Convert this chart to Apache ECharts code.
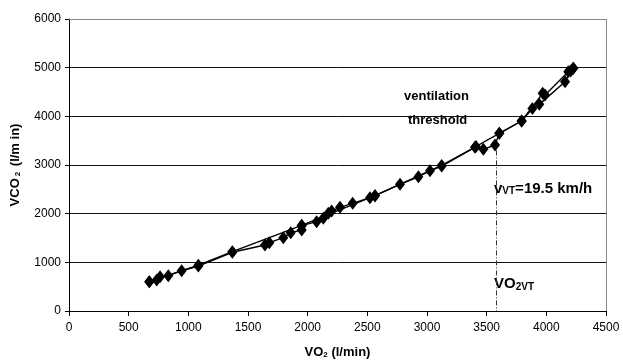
<!DOCTYPE html>
<html>
<head>
<meta charset="utf-8">
<script src="https://cdn.jsdelivr.net/npm/echarts@6/dist/echarts.min.js"></script>
<style>
  html, body { margin: 0; padding: 0; background: #fff; }
  #mainChart { width: 623px; height: 360px; }
</style>
</head>
<body>
<div id="mainChart"></div>
<script>
// VO2 / VCO2 measured points (l/min), in test order
var vo2 = [673, 735, 763, 832, 944, 1084, 1369, 1642, 1679, 1796, 1858, 1950, 1950, 2075, 2131, 2173, 2201, 2271, 2377, 2522, 2564, 2774, 2928, 3025, 3123, 3402, 3472, 3570, 3606, 3793, 3883, 3941, 4157, 4204, 4226];
var vco2 = [602, 637, 705, 726, 828, 925, 1206, 1356, 1404, 1507, 1610, 1664, 1753, 1836, 1904, 2007, 2055, 2130, 2212, 2328, 2370, 2603, 2759, 2880, 2979, 3363, 3322, 3411, 3651, 3904, 4159, 4246, 4712, 4931, 4986];

// second trace (smoothed run)
var vo2Trend = [673, 1084, 1369, 1950, 2564, 3123, 3410, 3606, 3793, 3969, 3989, 4184, 4226];
var vco2Trend = [602, 940, 1220, 1760, 2370, 2990, 3380, 3651, 3904, 4473, 4438, 4917, 4986];

var vo2VT = 3578;
var xTicks = [0, 500, 1000, 1500, 2000, 2500, 3000, 3500, 4000, 4500];
var yTicks = [0, 1000, 2000, 3000, 4000, 5000, 6000];

function pairs(xs, ys) {
    var out = [];
    for (var i = 0; i < xs.length; i++) {
        out.push([xs[i], ys[i]]);
    }
    return out;
}

var myChart = echarts.init(document.getElementById('mainChart'));

var font = 'Liberation Sans, Arial, sans-serif';

var option = {
    animation: false,
    grid: { left: 69, right: 17, top: 19, bottom: 49, outerBoundsMode: 'none', containLabel: false },
    xAxis: {
        type: 'value',
        min: xTicks[0],
        max: xTicks[xTicks.length - 1],
        interval: 500,
        name: '{a|VO}{s|2}{a| (l/min)}',
        nameLocation: 'middle',
        nameGap: 34,
        nameTextStyle: {
            rich: {
                a: { fontFamily: font, fontWeight: 'bold', fontSize: 13, color: '#000' },
                s: { fontFamily: font, fontWeight: 'bold', fontSize: 8, color: '#000', padding: [6, 0, 0, 0] }
            }
        },
        axisLine: { show: true, lineStyle: { color: '#000', width: 1 } },
        axisTick: { show: true, length: 5, lineStyle: { color: '#000' } },
        axisLabel: {
            fontFamily: font, fontSize: 12, color: '#000', margin: 11,
            formatter: function (v) { return String(v); }
        },
        splitLine: { show: false }
    },
    yAxis: {
        type: 'value',
        min: yTicks[0],
        max: yTicks[yTicks.length - 1],
        interval: 1000,
        name: '{a|VCO}{s|2}{a| (l/m in)}',
        nameLocation: 'middle',
        nameGap: 47,
        nameRotate: 90,
        nameTextStyle: {
            rich: {
                a: { fontFamily: font, fontWeight: 'bold', fontSize: 13, color: '#000' },
                s: { fontFamily: font, fontWeight: 'bold', fontSize: 8, color: '#000', padding: [6, 2, 0, 2] }
            }
        },
        axisLine: { show: true, lineStyle: { color: '#000', width: 1 } },
        axisTick: { show: true, length: 4, lineStyle: { color: '#000' } },
        axisLabel: {
            fontFamily: font, fontSize: 12, color: '#000', margin: 8,
            formatter: function (v) { return String(v); }
        },
        splitLine: { show: true, lineStyle: { color: '#111', width: 1 } }
    },
    graphic: [
        // grey frame on top and right
        { type: 'line', shape: { x1: 69, y1: 19.5, x2: 606.5, y2: 19.5 }, style: { stroke: '#888', lineWidth: 1 }, z: 5 },
        { type: 'line', shape: { x1: 606.5, y1: 19, x2: 606.5, y2: 311 }, style: { stroke: '#888', lineWidth: 1 }, z: 5 },
        { type: 'text', left: 404, top: 90, style: { text: 'ventilation', font: 'bold 13px ' + font, fill: '#000' } },
        { type: 'text', left: 408, top: 114, style: { text: 'threshold', font: 'bold 13px ' + font, fill: '#000' } },
        {
            type: 'text', left: 494, top: 181,
            style: {
                text: '{a|v}{s|VT}{a|=19.5 km/h}',
                rich: {
                    a: { fontFamily: font, fontWeight: 'bold', fontSize: 15, fill: '#000' },
                    s: { fontFamily: font, fontWeight: 'bold', fontSize: 10, fill: '#000', padding: [6, 0, 0, 0] }
                }
            }
        },
        {
            type: 'text', left: 494, top: 276,
            style: {
                text: '{a|VO}{s|2VT}',
                rich: {
                    a: { fontFamily: font, fontWeight: 'bold', fontSize: 15, fill: '#000' },
                    s: { fontFamily: font, fontWeight: 'bold', fontSize: 10, fill: '#000', padding: [8, 0, 0, 0] }
                }
            }
        }
    ],
    series: [{
        name: 'trend',
        type: 'line',
        data: pairs(vo2Trend, vco2Trend),
        symbol: 'diamond',
        symbolSize: [10, 13],
        itemStyle: { color: '#000' },
        lineStyle: { color: '#000', width: 1.4 },
        z: 3
    }, {
        name: 'measured',
        type: 'line',
        data: pairs(vo2, vco2),
        symbol: 'diamond',
        symbolSize: [10, 13],
        itemStyle: { color: '#000' },
        lineStyle: { color: '#000', width: 1.4 },
        z: 4,
        markLine: {
            silent: true,
            symbol: 'none',
            label: { show: false },
            lineStyle: { color: '#333', width: 1, type: [5, 2, 1, 2] },
            data: [[{ coord: [vo2VT, 3300] }, { coord: [vo2VT, 0] }]]
        }
    }]
};

myChart.setOption(option);
</script>
</body>
</html>
